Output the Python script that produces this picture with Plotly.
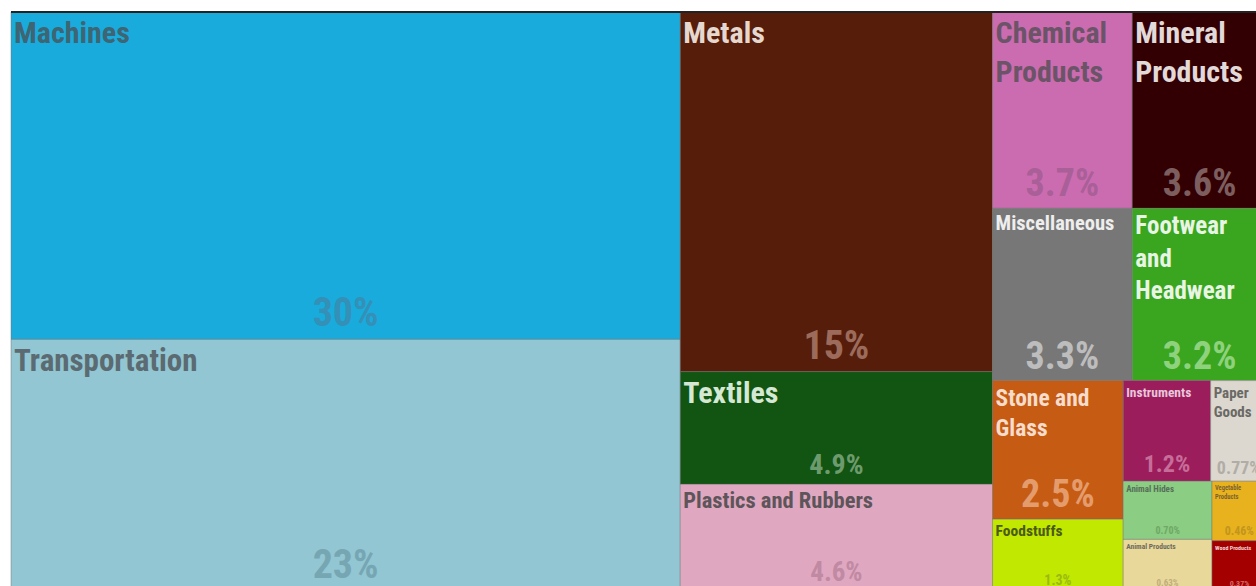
import plotly.graph_objects as go

# Product categories (share of exports, %), read from the tile areas
categories = ["Machines", "Transportation", "Metals", "Textiles", "Plastics and Rubbers",
              "Chemical Products", "Mineral Products", "Miscellaneous", "Footwear and Headwear",
              "Stone and Glass", "Foodstuffs", "Instruments", "Paper Goods", "Animal Hides",
              "Animal Products", "Vegetable Products", "Wood Products"]
shares = [30.14, 23.15, 15.45, 4.84, 4.58, 3.77, 3.64, 3.31, 3.19,
          2.49, 1.29, 1.21, 0.78, 0.71, 0.63, 0.45, 0.38]
share_labels = ["30%", "23%", "15%", "4.9%", "4.6%", "3.7%", "3.6%", "3.3%", "3.2%",
                "2.5%", "1.3%", "1.2%", "0.77%", "0.70%", "0.63%", "0.46%", "0.37%"]
display_labels = ["Machines", "Transportation", "Metals", "Textiles", "Plastics and Rubbers",
                  "Chemical<br>Products", "Mineral<br>Products", "Miscellaneous",
                  "Footwear<br>and<br>Headwear", "Stone and<br>Glass", "Foodstuffs", "Instruments",
                  "Paper<br>Goods", "Animal Hides", "Animal Products", "Vegetable<br>Products",
                  "Wood Products"]

tile_colors = ["#1aabdd", "#92c6d3", "#561d0a", "#125412", "#e0a7c1",
               "#cc6cb0", "#320003", "#777777", "#3aa51e",
               "#c65b13", "#c1e800", "#9b1d5b", "#dcd8cf", "#8bcd82",
               "#e8d89a", "#e8b21f", "#a50000"]
label_colors = ["#3e6573", "#5b6b71", "#e6d8cf", "#d5e8d3", "#5d5559",
                "#6b5468", "#e2d9d9", "#eeeeee", "#e8f5e4",
                "#f6dccb", "#4b5a12", "#e8c6db", "#6a6966", "#57705a",
                "#6e6b5e", "#7b6230", "#f2d2d2"]
pct_colors = ["#3490b6", "#77a6b3", "#9c6b5c", "#6d9b6d", "#c08aa3",
              "#a95f98", "#7d5e5f", "#bdbdbd", "#8fd27d",
              "#e59c6d", "#9bba12", "#c76d9a", "#b1ada6", "#6fa867",
              "#c0ad7b", "#c2951d", "#d46a6a"]
label_sizes = [30, 31, 30, 30, 22.5, 30, 30, 20.5, 25, 23.5, 15.5, 13.5, 15, 9, 7.5, 6.5, 6]
pct_sizes = [40, 40, 40, 28, 27, 38, 38, 38, 38, 38, 14, 24, 18, 10, 9, 12, 8]

parents = [""] * len(categories)
font_family = "Roboto Condensed, Liberation Sans Narrow, Liberation Sans, sans-serif"

fig = go.Figure()
fig.add_trace(go.Treemap(
    labels=categories, parents=parents, values=shares, text=display_labels,
    sort=True,
    tiling=dict(packing="squarify", squarifyratio=1.618034, pad=0),
    marker=dict(colors=tile_colors, line=dict(width=1, color="rgba(110,110,110,0.45)"), pad=dict(t=0, l=0, r=0, b=0)),
    texttemplate="%{text}", textposition="top left",
    textfont=dict(family=font_family, size=label_sizes, color=label_colors, weight="bold"),
    pathbar=dict(visible=False), hoverinfo="skip",
))
fig.add_trace(go.Treemap(
    labels=categories, parents=parents, values=shares, text=share_labels,
    sort=True,
    tiling=dict(packing="squarify", squarifyratio=1.618034, pad=0),
    marker=dict(colors=["rgba(0,0,0,0)"] * len(categories), line=dict(width=0), pad=dict(t=0, l=0, r=0, b=0)),
    texttemplate="%{text}", textposition="bottom center",
    textfont=dict(family=font_family, size=pct_sizes, color=pct_colors, weight="bold"),
    pathbar=dict(visible=False), hoverinfo="skip",
))

fig.update_layout(
    width=1267, height=591,
    margin=dict(l=11, r=0, t=12, b=0),
    paper_bgcolor="white",
    showlegend=False,
    shapes=[dict(type="line", xref="paper", yref="paper", x0=0, x1=1, y0=1, y1=1,
                 line=dict(color="#222222", width=2))],
)

fig.write_html(
    "out.html",
    config={"displayModeBar": False},
    post_script="document.body.style.margin='0';document.documentElement.style.overflow='hidden';",
)
